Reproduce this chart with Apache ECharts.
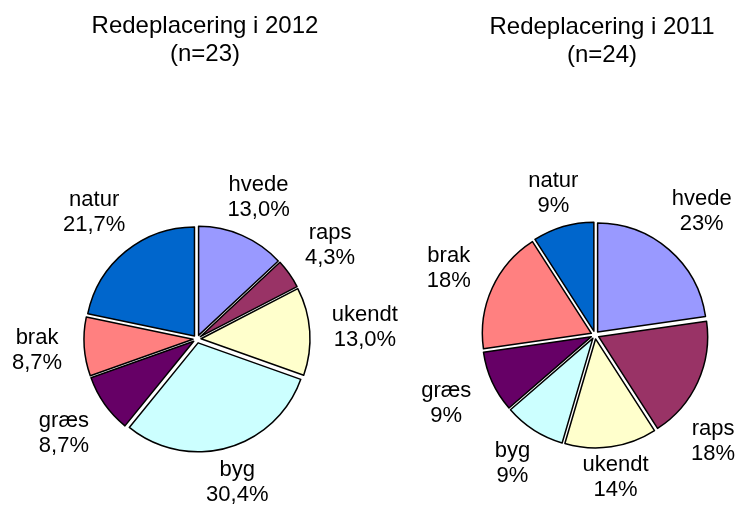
<!DOCTYPE html>
<html>
<head>
<meta charset="utf-8">
<script src="https://cdn.jsdelivr.net/npm/echarts@6/dist/echarts.min.js"></script>
<style>
    html, body { margin: 0; padding: 0; background: #fff; }
    #chart { width: 736px; height: 510px; }
</style>
</head>
<body>
<div id="chart"></div>
<script>
// data
var titles = ['Redeplacering i 2012\n(n=23)', 'Redeplacering i 2011\n(n=24)'];
var categories = ['hvede', 'raps', 'ukendt', 'byg', 'græs', 'brak', 'natur'];
var sliceColors = ['#9999FF', '#993366', '#FFFFCC', '#CCFFFF', '#660066', '#FF8080', '#0066CC'];
var values2012 = [3, 1, 3, 7, 2, 2, 5];
var values2011 = [5, 4, 3, 2, 2, 4, 2];

var font = '"Liberation Sans", Arial, Helvetica, sans-serif';
var chartW = 736, chartH = 510;
var pieRadius = 109;
var explode = 4;

// place each label just outside its slice (label box centred on the slice direction),
// sliding it round the circle when it would run off the page
function makeLabelLayout(values, center) {
    var total = values.reduce(function (a, b) { return a + b; }, 0);
    return function (p) {
        var before = 0;
        for (var i = 0; i < p.dataIndex; i++) before += values[i];
        var deg = (before + values[p.dataIndex] / 2) / total * 360;
        var w = p.labelRect.width, h = p.labelRect.height;
        var pos;
        for (var k = 0; k < 60; k++) {
            var a = deg * Math.PI / 180;
            var ux = Math.sin(a), uy = -Math.cos(a);
            var d = pieRadius + explode + Math.abs(ux) * (w / 2 + 17) + Math.abs(uy) * (h / 2 - 5);
            pos = [center[0] + ux * d, center[1] + uy * d];
            if (pos[0] + w / 2 > chartW - 4) deg += deg < 90 ? -1 : 1;
            else if (pos[0] - w / 2 < 4) deg += deg < 270 ? -1 : 1;
            else if (pos[1] + h / 2 > chartH - 2) deg += deg < 180 ? -1 : 1;
            else break;
        }
        return {
            dx: pos[0] - (p.labelRect.x + w / 2),
            dy: pos[1] - (p.labelRect.y + h / 2)
        };
    };
}

function buildData(values) {
    return values.map(function (v, i) {
        return {
            name: categories[i],
            value: v,
            selected: true,
            itemStyle: { color: sliceColors[i] }
        };
    });
}

function pieSeries(values, center, decimals) {
    return {
        type: 'pie',
        center: center,
        radius: pieRadius,
        startAngle: 90,
        clockwise: true,
        selectedMode: 'multiple',
        selectedOffset: explode,
        avoidLabelOverlap: false,
        data: buildData(values),
        itemStyle: { borderColor: '#000', borderWidth: 1.5 },
        select: { itemStyle: { borderColor: '#000', borderWidth: 1.5 } },
        emphasis: { disabled: true },
        label: {
            show: true,
            position: 'outside',
            color: '#000',
            fontSize: 22,
            lineHeight: 25,
            fontFamily: font,
            formatter: function (p) {
                return '{c|' + p.name + '}\n{c|' + p.percent.toFixed(decimals).replace('.', ',') + '%}';
            },
            rich: {
                c: { align: 'center', fontSize: 22, lineHeight: 25, fontFamily: font, color: '#000' }
            }
        },
        labelLine: { show: false },
        labelLayout: makeLabelLayout(values, center)
    };
}

var chart = echarts.init(document.getElementById('chart'));
var centerLeft = [197, 339];
var centerRight = [595, 335];
var titleStyle = { fontSize: 24, fontWeight: 'normal', lineHeight: 28, color: '#000', fontFamily: font };
var option = {
    animation: false,
    backgroundColor: '#fff',
    title: [
        { text: titles[0], left: 200, top: 7, textAlign: 'center', textStyle: titleStyle },
        { text: titles[1], left: 597, top: 8, textAlign: 'center', textStyle: titleStyle }
    ],
    series: [
        pieSeries(values2012, centerLeft, 1),
        pieSeries(values2011, centerRight, 0)
    ]
};
chart.setOption(option);
</script>
</body>
</html>
